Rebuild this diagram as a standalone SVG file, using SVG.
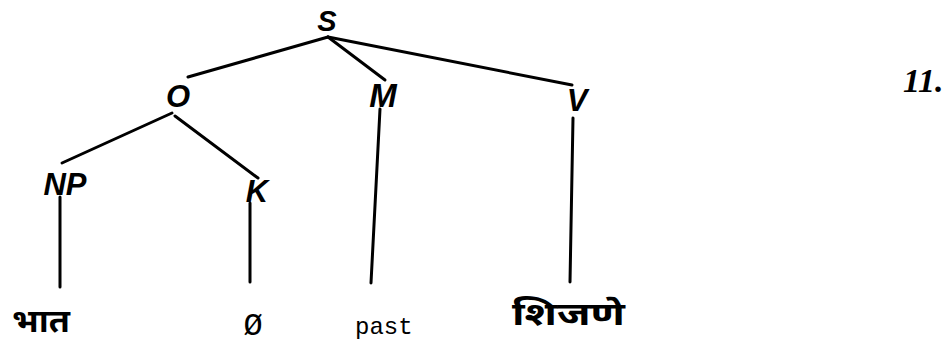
<svg xmlns="http://www.w3.org/2000/svg" width="951" height="346" viewBox="0 0 951 346">
<style>
.lbl{font-family:"Liberation Sans",sans-serif;font-style:italic;font-weight:bold;font-size:31px;fill:#000;text-anchor:middle}
.dev{font-family:"Noto Sans Devanagari","Noto Sans","Lohit Devanagari",sans-serif;font-weight:bold;font-size:32px;fill:#000}
.mono{font-family:"Liberation Mono",monospace;font-size:24px;fill:#000}
.edge{stroke:#000;stroke-width:3;stroke-linecap:round;fill:none}
</style>
<rect width="951" height="346" fill="#fff"/>
<g id="connectors">
<line class="edge" x1="328" y1="37" x2="188" y2="77"/>
<line class="edge" x1="328" y1="37" x2="385" y2="80"/>
<line class="edge" x1="328" y1="37" x2="572" y2="85"/>
<line class="edge" x1="172" y1="113" x2="62" y2="163"/>
<line class="edge" x1="175" y1="116" x2="258" y2="178"/>
<line class="edge" x1="60" y1="197" x2="60" y2="287"/>
<line class="edge" x1="250" y1="203" x2="250" y2="282"/>
<line class="edge" x1="380" y1="109" x2="371" y2="283"/>
<line class="edge" x1="573" y1="118" x2="570" y2="282"/>
</g>
<g id="node-S"><text class="lbl" x="327" y="31" style="font-size:29px">S</text></g>
<g id="node-O"><text class="lbl" x="178" y="107">O</text></g>
<g id="node-M"><text class="lbl" x="383" y="107" style="font-size:33px">M</text></g>
<g id="node-V"><text class="lbl" x="577" y="111">V</text></g>
<g id="node-NP"><text class="lbl" x="65" y="195">NP</text></g>
<g id="node-K"><text class="lbl" x="257" y="202">K</text></g>
<g id="leaf-bhat"><text class="dev" x="12" y="332" textLength="58" lengthAdjust="spacingAndGlyphs">भात</text></g>
<g id="leaf-null"><text class="mono" x="253" y="335" text-anchor="middle" style="font-size:32px">Ø</text></g>
<g id="leaf-past"><text class="mono" x="355" y="334">past</text></g>
<g id="leaf-shijane"><text class="dev" x="512" y="325" textLength="113" lengthAdjust="spacingAndGlyphs">शिजणे</text></g>
<g id="page-number"><text x="903" y="92" font-family="Liberation Serif,serif" font-style="italic" font-weight="bold" font-size="34">11.</text></g>
</svg>
